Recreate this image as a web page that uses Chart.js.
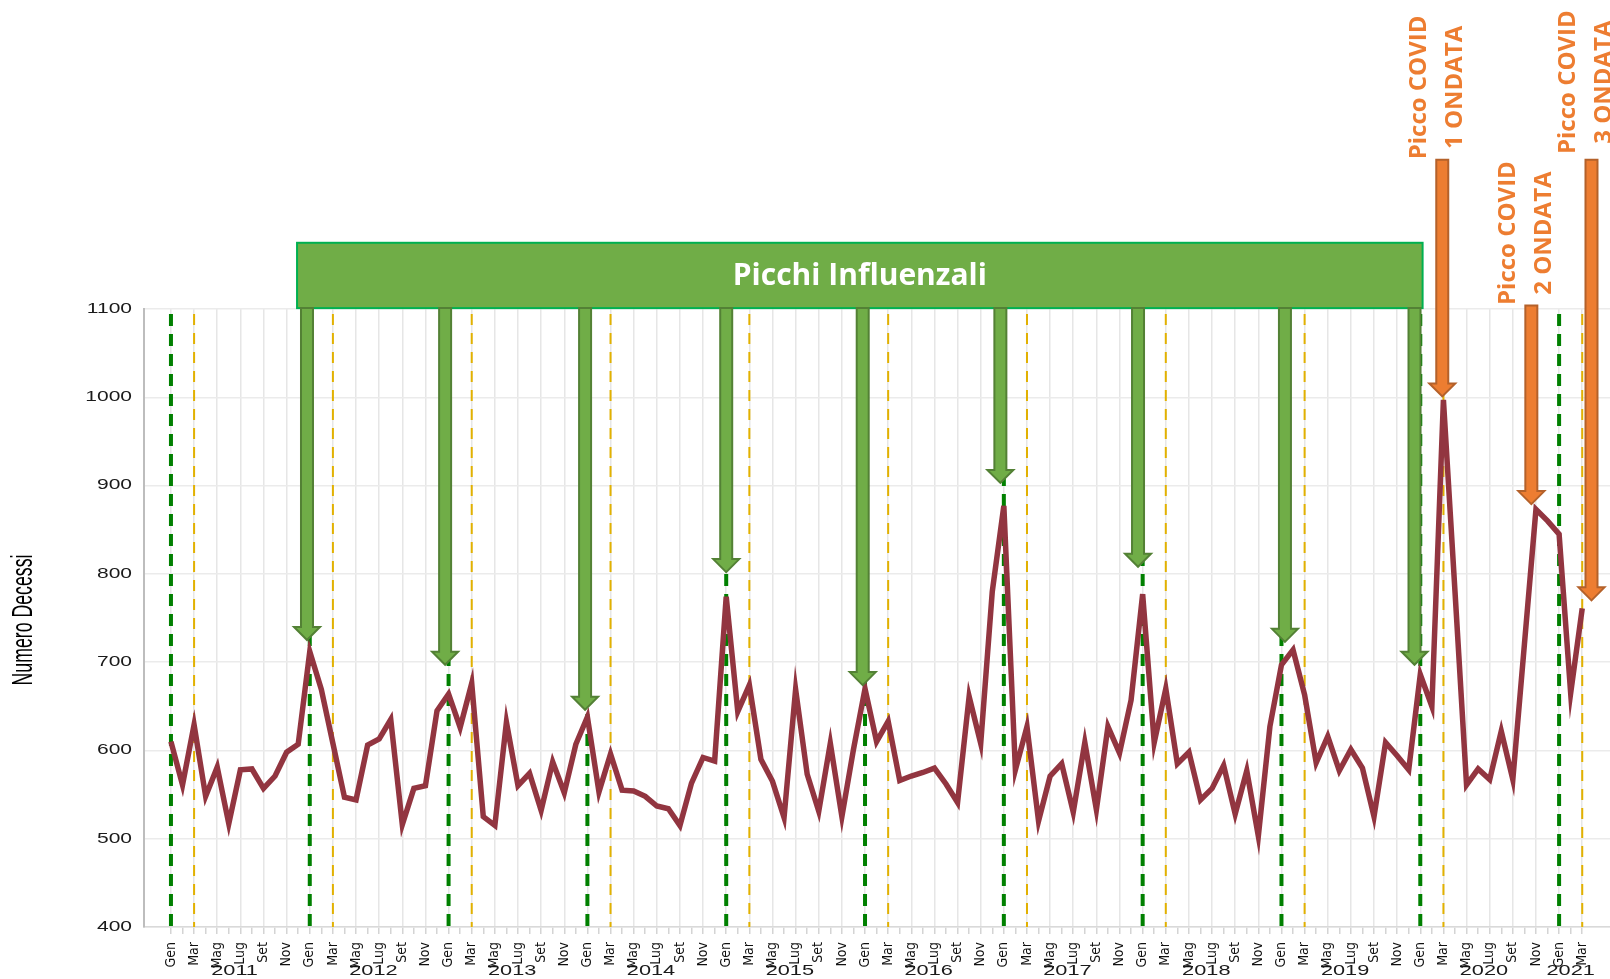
<!DOCTYPE html>
<html>
<head>
<meta charset="utf-8">
<title>Numero Decessi mensili 2011-2021</title>
<script src="https://cdn.jsdelivr.net/npm/chart.js@4.4.1/dist/chart.umd.min.js"></script>
<style>
    html, body { margin: 0; padding: 0; background: #fff; }
</style>
</head>
<body>
<canvas id="decessiChart" width="1610" height="979"></canvas>
<script>
// Month names (only every other one is printed on the axis)
const monthNames = ['Gen', 'Feb', 'Mar', 'Apr', 'Mag', 'Giu', 'Lug', 'Ago', 'Set', 'Ott', 'Nov', 'Dic'];
const years = [2011, 2012, 2013, 2014, 2015, 2016, 2017, 2018, 2019, 2020, 2021];
const yTicks = [400, 500, 600, 700, 800, 900, 1000, 1100];

// Monthly deaths, Gen 2011 .. Mar 2021
const deaths = [
    610, 561, 629, 548, 581, 517, 578, 579, 557, 571, 598, 607,   // 2011
    712, 669, 608, 547, 544, 606, 613, 635, 516, 557, 560, 645,   // 2012
    664, 626, 676, 525, 515, 632, 560, 574, 532, 587, 552, 607,   // 2013
    638, 553, 596, 555, 554, 548, 537, 534, 515, 563, 592, 588,   // 2014
    774, 644, 674, 590, 565, 524, 669, 573, 531, 608, 525, 601,   // 2015
    670, 610, 633, 566, 571, 575, 580, 562, 541, 661, 608, 780,   // 2016
    877, 578, 627, 520, 571, 585, 530, 609, 533, 627, 597, 657,   // 2017
    777, 609, 670, 585, 598, 544, 557, 583, 528, 577, 503, 627,   // 2018
    697, 714, 663, 586, 616, 577, 601, 580, 525, 609, 594, 578,   // 2019
    686, 650, 997, 780, 561, 579, 567, 622, 567, 720, 873, 860,   // 2020
    845, 665, 761                                                 // 2021
];

// Flu peak arrows: month position and value the tip points at
const fluArrowMonth = [11.76, 23.7, 35.8, 48.0, 59.8, 71.7, 83.6, 96.3, 107.5];
const fluArrowTip = [725, 697, 646, 802, 674, 903, 808, 723, 697];

// Covid peak arrows
const covidArrowMonth = [109.9, 117.6, 122.8];
const covidArrowTop = [1269, 1104, 1269];
const covidArrowTip = [1001, 879, 770];
const covidWaves = ['1 ONDATA', '2 ONDATA', '3 ONDATA'];
const covidLabelCenter = [1351, 1186, 1357];

const months = deaths.map((_, i) => i);
const janIdx = months.filter(i => i % 12 === 0);
const marIdx = months.filter(i => i % 12 === 2);

function drawArrow(ctx, x, yTop, yTip, fill, stroke) {
    const shaftW = 12, headW = 26, headH = 13;
    ctx.beginPath();
    ctx.moveTo(x - shaftW / 2, yTop);
    ctx.lineTo(x + shaftW / 2, yTop);
    ctx.lineTo(x + shaftW / 2, yTip - headH);
    ctx.lineTo(x + headW / 2, yTip - headH);
    ctx.lineTo(x, yTip);
    ctx.lineTo(x - headW / 2, yTip - headH);
    ctx.lineTo(x - shaftW / 2, yTip - headH);
    ctx.closePath();
    ctx.fillStyle = fill;
    ctx.fill();
    ctx.lineWidth = 2;
    ctx.strokeStyle = stroke;
    ctx.stroke();
}

function wideText(ctx, text, x, y, font, sx, align) {
    ctx.save();
    ctx.translate(x, y);
    ctx.scale(sx, 1);
    ctx.font = font;
    ctx.textAlign = align;
    ctx.textBaseline = 'middle';
    ctx.fillText(text, 0, 0);
    ctx.restore();
}

const overlayPlugin = {
    id: 'overlay',
    beforeDatasetsDraw(chart) {
        const { ctx, chartArea, scales: { x } } = chart;
        ctx.save();
        // Gen lines
        ctx.strokeStyle = '#008000';
        ctx.lineWidth = 4;
        ctx.setLineDash([12, 8]);
        janIdx.forEach(i => {
            const px = x.getPixelForValue(i);
            ctx.beginPath();
            ctx.moveTo(px, chartArea.top + 5);
            ctx.lineTo(px, chartArea.bottom);
            ctx.stroke();
        });
        // Mar lines
        ctx.strokeStyle = '#E2B100';
        ctx.lineWidth = 2;
        ctx.setLineDash([11, 8]);
        marIdx.forEach(i => {
            const px = x.getPixelForValue(i);
            ctx.beginPath();
            ctx.moveTo(px, chartArea.top + 5);
            ctx.lineTo(px, chartArea.bottom);
            ctx.stroke();
        });
        ctx.restore();
    },
    afterDraw(chart) {
        const { ctx, scales: { x, y } } = chart;
        ctx.save();

        // y tick labels
        ctx.fillStyle = '#1a1a1a';
        yTicks.forEach(v => {
            wideText(ctx, String(v), 132, y.getPixelForValue(v), '14px "Liberation Sans", Arial, sans-serif', 1.5, 'right');
        });

        // year labels
        years.forEach((yr, k) => {
            const first = k * 12;
            const last = Math.min(first + 11, deaths.length - 1);
            const cx = x.getPixelForValue((first + last) / 2);
            wideText(ctx, String(yr), cx, 971, '15px "Liberation Sans", Arial, sans-serif', 1.45, 'center');
        });

        // y axis title (condensed)
        ctx.save();
        ctx.font = '29px "Liberation Sans Narrow", "Liberation Sans", Arial, sans-serif';
        const tw = ctx.measureText('Numero Decessi').width;
        ctx.translate(24, 620);
        ctx.rotate(-Math.PI / 2);
        ctx.scale(131 / tw, 1);
        ctx.textAlign = 'center';
        ctx.textBaseline = 'middle';
        ctx.fillStyle = '#000';
        ctx.fillText('Numero Decessi', 0, 0);
        ctx.restore();

        // Picchi Influenzali box
        const bx0 = x.getPixelForValue(10.9), bx1 = x.getPixelForValue(108.2);
        const by0 = y.getPixelForValue(1175), by1 = y.getPixelForValue(1101);
        ctx.fillStyle = '#70AD47';
        ctx.fillRect(bx0, by0, bx1 - bx0, by1 - by0);
        ctx.strokeStyle = '#00B050';
        ctx.lineWidth = 2;
        ctx.strokeRect(bx0, by0, bx1 - bx0, by1 - by0);
        ctx.fillStyle = '#fff';
        ctx.font = 'bold 30px "Open Sans", sans-serif';
        ctx.textAlign = 'center';
        ctx.textBaseline = 'middle';
        ctx.fillText('Picchi Influenzali', (bx0 + bx1) / 2, (by0 + by1) / 2 + 1);

        // flu arrows
        fluArrowMonth.forEach((m, k) => {
            drawArrow(ctx, x.getPixelForValue(m), by1, y.getPixelForValue(fluArrowTip[k]), '#70AD47', '#538135');
        });

        // covid arrows and labels
        covidArrowMonth.forEach((m, k) => {
            const px = x.getPixelForValue(m);
            drawArrow(ctx, px, y.getPixelForValue(covidArrowTop[k]), y.getPixelForValue(covidArrowTip[k]), '#ED7D31', '#B4612A');
            ctx.save();
            ctx.translate(px - 5, y.getPixelForValue(covidLabelCenter[k]));
            ctx.rotate(-Math.PI / 2);
            ctx.fillStyle = '#ED7D31';
            ctx.font = 'bold 24px "Open Sans", sans-serif';
            ctx.textAlign = 'center';
            ctx.textBaseline = 'middle';
            ctx.fillText('Picco COVID', 0, -18);
            ctx.fillText(covidWaves[k], 0, 18);
            ctx.restore();
        });

        ctx.restore();
    }
};

const ctx = document.getElementById('decessiChart').getContext('2d');
new Chart(ctx, {
    type: 'line',
    data: {
        datasets: [{
            label: 'Numero Decessi',
            data: deaths.map((v, i) => ({ x: i, y: v })),
            borderColor: '#923540',
            borderWidth: 5.5,
            pointRadius: 0,
            tension: 0,
            fill: false
        }]
    },
    options: {
        responsive: false,
        animation: false,
        layout: { padding: { top: 309, right: 0, bottom: 0, left: 0 } },
        plugins: {
            legend: { display: false },
            tooltip: { enabled: false }
        },
        scales: {
            x: {
                type: 'linear',
                min: -2.33,
                max: 124.4,
                afterBuildTicks: (scale) => {
                    scale.ticks = months.map(v => ({ value: v }));
                },
                afterFit: (scale) => { scale.height = 52; },
                ticks: {
                    autoSkip: false,
                    minRotation: 90,
                    maxRotation: 90,
                    padding: 8,
                    color: '#111',
                    font: { family: '"Liberation Sans Narrow", "DejaVu Sans Condensed", "Liberation Sans", sans-serif', size: 14 },
                    callback: (value) => (value % 2 === 0 ? monthNames[value % 12] : '')
                },
                grid: {
                    color: (c) => (c.tick && c.tick.value % 2 === 0 ? '#E6E6E6' : 'rgba(0,0,0,0)'),
                    tickColor: '#D4D4D4',
                    lineWidth: 1.5,
                    tickLength: 7
                },
                border: { color: '#D9D9D9', width: 1.5 }
            },
            y: {
                min: 400,
                max: 1100,
                afterFit: (scale) => { scale.width = 144; },
                ticks: { stepSize: 100, display: false },
                grid: { color: '#EBEBEB', lineWidth: 1.5, drawTicks: false },
                border: { color: '#BDBDBD', width: 2 }
            }
        }
    },
    plugins: [overlayPlugin]
});
</script>
</body>
</html>
